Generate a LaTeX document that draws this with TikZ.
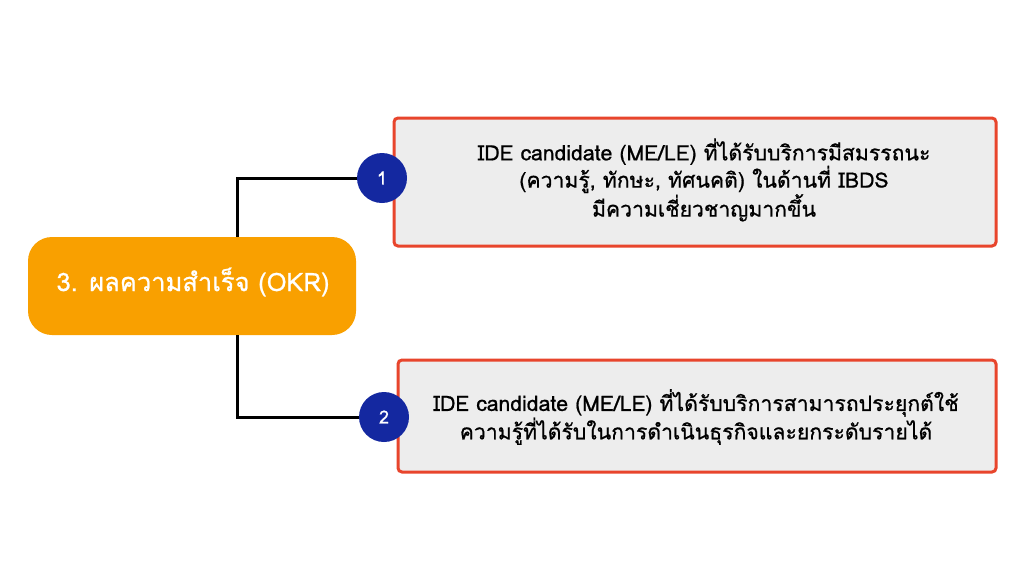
\documentclass[tikz,border=0pt]{standalone}
\usepackage{fontspec}
\newfontfamily\thaifont[Script=Thai,FakeBold=0.8]{Loma}
\definecolor{okrorange}{HTML}{F9A000}
\definecolor{boxred}{HTML}{E8452C}
\definecolor{boxfill}{HTML}{EDEDED}
\definecolor{numblue}{HTML}{1428A0}
\tikzset{
  mainbox/.style={draw=none, fill=okrorange, rounded corners=24pt, minimum width=328pt, minimum height=98pt, inner sep=0pt},
  itembox/.style={draw=boxred, line width=3pt, fill=boxfill, rounded corners=4pt, inner sep=0pt},
  itemtext/.style={align=center, font=\thaifont\fontsize{21.2}{25.5}\selectfont, text=black},
  maintext/.style={text=white, font=\thaifont\fontsize{25.5}{28}\selectfont},
  numcirc/.style={circle, fill=numblue, minimum size=50pt, inner sep=0pt, text=white, font=\thaifont\fontsize{18}{20}\selectfont},
  link/.style={draw=black, line width=3pt}
}
\begin{document}
\begin{tikzpicture}[x=1pt,y=-1pt]
\useasboundingbox[fill=white] (0,0) rectangle (1024,574);
% item boxes
\node[itembox, minimum width=602pt, minimum height=128pt] (b1) at (695,182) {};
\node[itembox, minimum width=598pt, minimum height=112pt] (b2) at (697,416) {};
\node[itemtext] (t1) at (704,180) {IDE candidate (ME/LE) ที่ได้รับบริการมีสมรรถนะ\\(ความรู้, ทักษะ, ทัศนคติ) ในด้านที่ IBDS\\มีความเชี่ยวชาญมากขึ้น};
\node[itemtext] (t2) at (696,417) {IDE candidate (ME/LE) ที่ได้รับบริการสามารถประยุกต์ใช้\\ความรู้ที่ได้รับในการดำเนินธุรกิจและยกระดับรายได้};
% main box
\node[mainbox] (m) at (192,286) {};
\node[maintext] (mt) at (193,282) {3. ผลความสำเร็จ (OKR)};
% number circles
\node[numcirc] (c1) at (382,178) {1};
\node[numcirc] (c2) at (384,417) {2};
% connectors
\coordinate (k1) at (237,178);
\coordinate (k2) at (237,417);
\draw[link] (m.north -| k1) -- (k1) -- (c1.west);
\draw[link] (m.south -| k2) -- (k2) -- (c2.west);
\end{tikzpicture}
\end{document}
